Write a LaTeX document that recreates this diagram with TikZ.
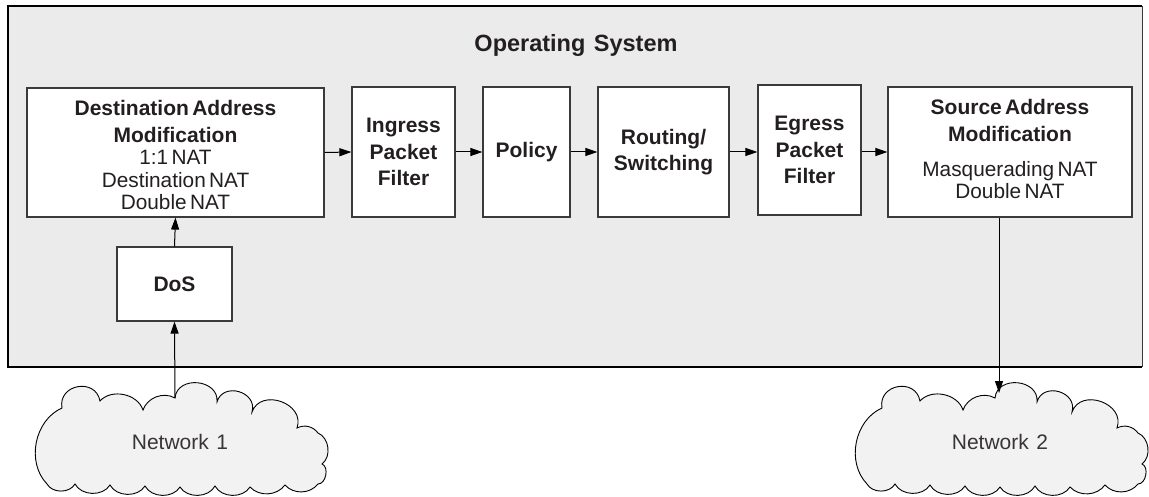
\documentclass[tikz,border=0pt]{standalone}
\usepackage{fontspec}
\setmainfont{Liberation Sans}[WordSpace=1.3]
\usetikzlibrary{arrows.meta}
\definecolor{txt}{HTML}{231F20}
\definecolor{osfill}{HTML}{EBEBEB}
\definecolor{cloudfill}{HTML}{F2F2F2}
\definecolor{boxline}{HTML}{3A3A3A}
\newcommand\cloudshape{(47,-484) to[bend left=55] (62,-408)
  to[bend left=90,looseness=1.6] (100,-401)
  to[bend left=60] (143,-410)
  to[bend left=50] (175,-398)
  to[bend left=90,looseness=1.4] (217,-402)
  to[bend left=90,looseness=1.5] (252,-412)
  to[bend left=90,looseness=1.4] (297,-428)
  to[bend left=40] (318,-433)
  to[bend left=60] (322,-464)
  to[bend left=80] (318,-484)
  to[bend left=50] (285,-485)
  to[bend left=50] (250,-487)
  to[bend left=60] (215,-486)
  to[bend left=60] (180,-487)
  to[bend left=60] (145,-486)
  to[bend left=60] (110,-485)
  to[bend left=60] (75,-484)
  to[bend left=60] (47,-484) -- cycle}
\tikzset{
  stagebox/.style={draw=boxline, line width=1.2pt, fill=white, inner sep=0pt,
    text=txt, align=center},
  boldtxt/.style={font=\fontsize{21}{26.5}\selectfont\bfseries},
  flow/.style={draw=black, line width=1pt, -{Triangle[length=12pt,width=8pt]}},
  cloudstyle/.style={draw=black, line width=0.9pt, fill=cloudfill},
  nettext/.style={text=txt!90, font=\fontsize{21}{25}\selectfont}
}
\begin{document}
\begin{tikzpicture}[x=1pt,y=1pt]
\useasboundingbox (0,0) rectangle (1149,-497);
% operating system frame
\node[fill=osfill, inner sep=0pt, minimum width=1134pt, minimum height=361pt] (os) at (575,-186.5) {};
\draw[line width=2.2pt, black] (os.north east) -- (os.north west) -- (os.south west) -- (os.south east);
\draw[line width=1.2pt, boxline] (os.north east) -- (os.south east);
\node[text=txt, font=\fontsize{23.5}{28}\selectfont\bfseries] (title) at (576,-45) {Operating System};
% stages
\node[stagebox, minimum width=297pt, minimum height=129pt, text width=290pt] (dest) at (175.5,-152.5)
  {\fontsize{21}{27}\selectfont\bfseries Destination Address\\Modification\par
   \fontsize{20.8}{22.5}\selectfont\mdseries 1:1 NAT\\Destination NAT\\Double NAT\par\vspace{-5pt}};
\node[stagebox, boldtxt, minimum width=103pt, minimum height=130pt, text width=100pt] (ingress) at (403.5,-152) {Ingress\\Packet\\Filter};
\node[stagebox, boldtxt, minimum width=87pt, minimum height=130pt, text width=85pt] (policy) at (526.5,-152) {Policy};
\node[stagebox, boldtxt, minimum width=131pt, minimum height=130pt, text width=128pt] (routing) at (663.5,-152) {Routing/\\Switching};
\node[stagebox, boldtxt, minimum width=103pt, minimum height=130pt, text width=100pt] (egress) at (809.5,-150) {Egress\\Packet\\Filter};
\node[stagebox, minimum width=244pt, minimum height=130pt, text width=238pt] (source) at (1010,-152)
  {\fontsize{21}{27}\selectfont\bfseries Source Address\\Modification\par\vspace{12pt}
   \fontsize{20.8}{22.5}\selectfont\mdseries Masquerading NAT\\Double NAT\par\vspace{6pt}};
\node[stagebox, boldtxt, minimum width=115pt, minimum height=74pt, text width=110pt] (dos) at (174.5,-284) {DoS};
% clouds
\draw[cloudstyle] \cloudshape;
\draw[cloudstyle, shift={(820,0)}] \cloudshape;
\node[nettext] (net1) at (180,-442) {Network 1};
\node[nettext] (net2) at (1000,-442) {Network 2};
\coordinate (c1top) at (175,-398);
\coordinate (c2top) at (999,-393);
% connectors
\draw[flow] (dest.east) -- (ingress.west);
\draw[flow] (ingress.east) -- (policy.west);
\draw[flow] (policy.east) -- (routing.west);
\draw[flow] (routing.east) -- (routing.east -| egress.west);
\draw[flow] (egress.east |- source.west) -- (source.west);
\draw[flow] (dos.north) -- (dest.south);
\draw[flow] (c1top) -- (dos.south);
\draw[flow] (source.south -| c2top) -- (c2top);
\end{tikzpicture}
\end{document}
